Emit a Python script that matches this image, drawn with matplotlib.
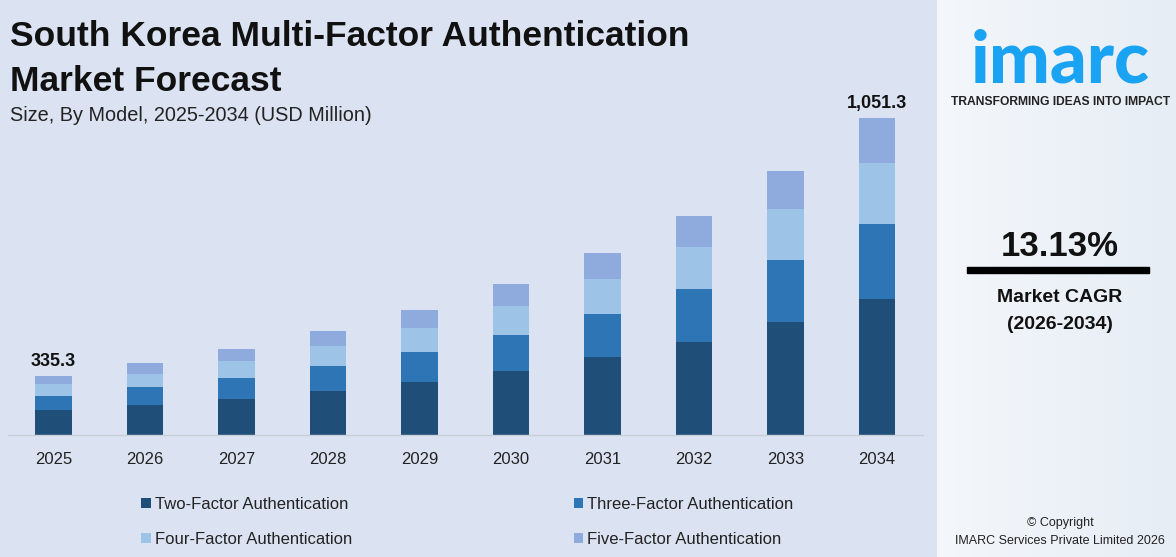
"""
South Korea multi-factor authentication market forecast, stacked bars by model.
"""

import matplotlib.pyplot as plt
import numpy as np
from matplotlib.colors import LinearSegmentedColormap
from matplotlib.patches import Rectangle

W, H = 1176, 557
BG = "#dbe3f2"
FONT = "Liberation Sans"

years = ["2025", "2026", "2027", "2028", "2029", "2030", "2031", "2032", "2033", "2034"]
series_names = [
    "Two-Factor Authentication",
    "Three-Factor Authentication",
    "Four-Factor Authentication",
    "Five-Factor Authentication",
]
two_factor = [83, 100, 120, 146, 176, 211, 258, 308, 374, 450]
three_factor = [46, 60, 70, 83, 100, 120, 143, 176, 206, 249]
four_factor = [40, 43, 56, 66, 80, 96, 116, 139, 169, 204]
five_factor = [27, 36, 40, 50, 60, 73, 86, 103, 126, 148]
total_labels = ["335.3", "", "", "", "", "", "", "", "", "1,051.3"]
colors = ["#1f4e79", "#2e75b6", "#9dc3e6", "#8faadc"]

cagr_text = "13.13%"
cagr_period = "(2026-2034)"

plt.rcParams["font.family"] = [FONT, "DejaVu Sans"]


def fx(px):
    return px / W


def fy(py):
    return 1 - py / H


fig = plt.figure(figsize=(W / 100, H / 100), dpi=100, facecolor=BG)

# right-hand brand panel
panel = fig.add_axes([fx(937), 0, fx(W - 937), 1])
grad = np.outer(np.ones(256), np.linspace(0, 1, 256))
panel.imshow(
    grad, aspect="auto", extent=[0, 1, 0, 1],
    cmap=LinearSegmentedColormap.from_list("pan", ["#f4f7fb", "#e6edf5"]),
)
panel.set_axis_off()

# main chart
ax = fig.add_axes([fx(7.75), fy(435), fx(915), 361.8 / H])
ax.set_facecolor("none")
x = np.arange(len(years))
series = [two_factor, three_factor, four_factor, five_factor]
bottom = np.zeros(len(years))
handles = []
for vals, name, col in zip(series, series_names, colors):
    bars = ax.bar(x, vals, width=0.404, bottom=bottom, color=col, label=name, zorder=2)
    handles.append(bars)
    bottom += np.array(vals)

for i, lab in enumerate(total_labels):
    if lab:
        ax.annotate(
            lab, (x[i], bottom[i]), xytext=(0, 7), textcoords="offset points",
            ha="center", va="baseline", fontsize=13, fontweight="bold", color="#111111",
        )

ax.set_xlim(-0.5, len(years) - 0.5)
ax.set_ylim(0, 1200)
ax.set_xticks(x, years)
ax.set_yticks([])
for side in ["top", "right", "left"]:
    ax.spines[side].set_visible(False)
ax.spines["bottom"].set_color("#c9cfd9")
ax.spines["bottom"].set_linewidth(1.0)
ax.tick_params(axis="x", length=0, pad=12, labelsize=12, labelcolor="#222222")

# legend: two columns, row order Two/Three then Four/Five
order = [0, 2, 1, 3]
fig.legend(
    [handles[k] for k in order],
    [series_names[k] for k in order],
    ncol=2,
    loc="upper left",
    bbox_to_anchor=(fx(133), fy(489)),
    frameon=False,
    fontsize=12,
    handlelength=0.55,
    handleheight=0.55,
    handletextpad=0.25,
    columnspacing=13.3,
    labelspacing=1.17,
    borderpad=0,
    labelcolor="#222222",
)

# titles
fig.text(fx(10), fy(46), "South Korea Multi-Factor Authentication", fontsize=25.5,
         fontweight="bold", color="#111111", va="baseline")
fig.text(fx(10), fy(91), "Market Forecast", fontsize=25.5,
         fontweight="bold", color="#111111", va="baseline")
fig.text(fx(10), fy(121), "Size, By Model, 2025-2034 (USD Million)", fontsize=14.3,
         color="#222222", va="baseline")

# brand panel texts
fig.text(fx(1060), fy(82), "imarc", fontsize=52, fontweight="black", color="#1aa3f2",
         ha="center", va="baseline", family=["Lato", "DejaVu Sans"])
fig.text(fx(1061), fy(105), "TRANSFORMING IDEAS INTO IMPACT", fontsize=8.7,
         fontweight="bold", color="#222222", ha="center", va="baseline")
fig.text(fx(1060), fy(256), cagr_text, fontsize=25, fontweight="bold",
         color="#111111", ha="center", va="baseline")
fig.add_artist(Rectangle((fx(967), fy(273)), fx(182), 6 / H, transform=fig.transFigure,
                         color="#000000"))
fig.text(fx(1060), fy(302), "Market CAGR", fontsize=14, fontweight="bold",
         color="#111111", ha="center", va="baseline")
fig.text(fx(1060), fy(329), cagr_period, fontsize=14, fontweight="bold",
         color="#111111", ha="center", va="baseline")
fig.text(fx(1060), fy(526), "\u00a9 Copyright", fontsize=9, color="#222222",
         ha="center", va="baseline")
fig.text(fx(1060), fy(544), "IMARC Services Private Limited 2026", fontsize=9,
         color="#222222", ha="center", va="baseline")

fig.savefig("out.png", dpi=100, facecolor=BG)
